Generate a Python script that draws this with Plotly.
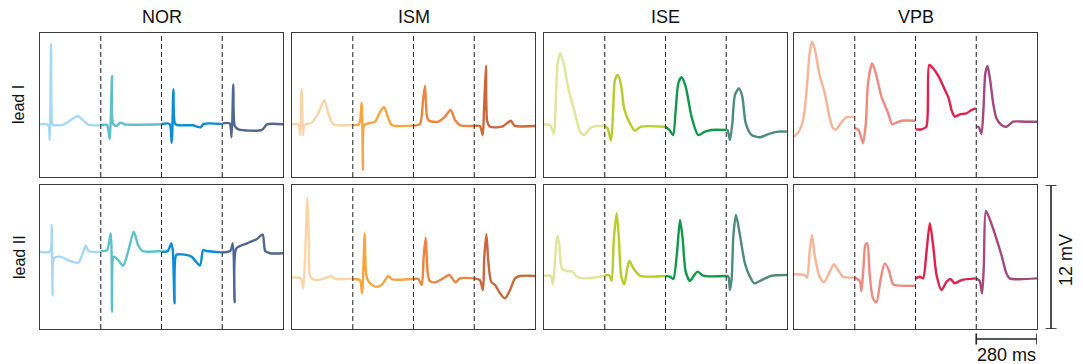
import plotly.graph_objects as go

# ---------------- data ----------------
CLASSES = ["NOR", "ISM", "ISE", "VPB"]
LEADS = ["lead I", "lead II"]
SEG_MS = 280          # duration of each beat window (ms)
V_RANGE = [-6, 6]     # 12 mV full height
SCALE_MV_LABEL = "12 mV"
SCALE_MS_LABEL = "280 ms"

COLORS_NOR = ["#a6daf4", "#5cc1cb", "#0a8dd2", "#4f6792"]
COLORS_ISM = ["#fdd4a6", "#f9a53f", "#ef8340", "#c9683a"]
COLORS_ISE = ["#dde699", "#b5ce27", "#10994b", "#4e8b7b"]
COLORS_VPB = ["#f8b496", "#ef8a80", "#e2204b", "#a4487f"]

# NOR, lead I
NOR_I_T = [[0, 31, 40, 45, 51, 55, 60, 76, 108, 138, 174, 197, 223, 280],
           [0, 29, 41, 52, 57, 72, 91, 111, 280],
           [0, 37, 47, 55, 63, 83, 144, 180, 194, 278],
           [0, 34, 43, 51, 58, 75, 183, 206, 280]]
NOR_I_V = [[-1.6, -1.6, -1.75, -2.9, 5.1, -1.4, -1.67, -1.69, -1.64, -1.3, -0.92, -1.25, -1.64, -1.69],
           [-1.67, -1.67, -2.86, 2.42, -1.58, -1.75, -1.47, -1.61, -1.61],
           [-1.58, -1.58, -3.14, 1.31, -1.58, -1.69, -1.69, -1.86, -1.58, -1.58],
           [-1.53, -1.53, -2.69, 1.72, -1.75, -2.03, -2.08, -1.61, -1.61]]
# NOR, lead II
NOR_II_T = [[0, 46, 54, 58, 65, 92, 138, 177, 197, 211, 223, 246, 280],
            [0, 29, 46, 52, 60, 80, 103, 126, 152, 172, 192, 280],
            [0, 29, 45, 52, 60, 68, 91, 138, 177, 192, 208, 278],
            [0, 37, 49, 57, 65, 114, 160, 186, 198, 221, 280]]
NOR_II_V = [[0.44, 0.44, 2.67, -3.22, -0.11, 0.03, -0.33, -0.47, 0.31, 0.94, 0.5, 0.42, 0.42],
            [0.5, 0.58, 1.97, -4.56, 0.03, -0.25, -0.72, 0.44, 2.11, 1.0, 0.5, 0.5],
            [0.44, 0.5, 1.14, 0.58, -3.86, 0.17, 0.22, 0.03, -0.72, 0.58, 0.5, 0.39],
            [0.39, 0.5, 1.14, -3.78, 0.72, 1.14, 1.5, 1.89, 0.5, 0.31, 0.31]]

# ISM, lead I
ISM_I_T = [[0, 29, 38, 44, 51, 57, 91, 121, 149, 167, 191, 280],
           [0, 29, 41, 47, 53, 72, 103, 126, 144, 164, 180, 280],
           [0, 30, 44, 53, 62, 72, 114, 145, 171, 191, 214, 280],
           [0, 26, 39, 45, 54, 60, 73, 127, 150, 169, 185, 280]]
ISM_I_V = [[-1.61, -1.61, -2.5, 1.31, -2.5, -1.67, -1.47, -0.69, 0.42, -0.69, -1.61, -1.67],
           [-1.67, -1.61, 0.19, -5.4, -1.67, -1.53, -1.39, -0.56, -0.19, -1.11, -1.67, -1.72],
           [-1.72, -1.58, 0.42, 1.58, -0.97, -1.31, -1.39, -0.97, -0.42, -1.25, -1.67, -1.75],
           [-1.75, -1.75, -2.5, -0.42, 3.28, -1.39, -1.81, -1.81, -1.53, -1.31, -1.72, -1.75]]
# ISM, lead II
ISM_II_T = [[0, 41, 52, 63, 71, 78, 84, 106, 144, 180, 198, 280],
            [0, 33, 43, 55, 62, 75, 103, 133, 164, 182, 280],
            [0, 22, 38, 47, 56, 65, 75, 99, 137, 165, 194, 214, 280],
            [0, 26, 40, 46, 56, 65, 78, 96, 119, 142, 165, 188, 211, 280]]
ISM_II_V = [[-1.72, -1.78, -2.61, 1.28, 4.94, 1.28, -1.64, -1.92, -1.83, -1.58, -1.83, -1.78],
            [-1.83, -1.92, -3.03, 1.97, -1.5, -2.11, -2.47, -2.33, -1.58, -1.86, -1.83],
            [-1.83, -1.83, -2.33, 0.03, 1.61, -1.22, -2.0, -2.11, -1.78, -1.5, -2.11, -1.78, -1.78],
            [-1.78, -1.92, -2.75, -0.11, 1.89, -0.39, -2.06, -2.33, -3.03, -3.44, -2.75, -1.78, -1.58, -1.58]]

# ISE, lead I
ISE_I_T = [[0, 28, 46, 54, 63, 74, 89, 112, 143, 166, 186, 212, 243, 280],
           [0, 13, 29, 38, 47, 60, 75, 90, 116, 139, 167, 280],
           [0, 18, 35, 47, 59, 74, 93, 120, 151, 182, 213, 280],
           [0, 6, 17, 28, 40, 59, 74, 90, 117, 156, 194, 240, 280]]
ISE_I_V = [[-1.61, -1.67, -2.42, 0.42, 3.47, 4.31, 3.61, 1.39, -0.69, -2.22, -2.5, -1.94, -1.75, -1.75],
           [-1.75, -1.94, -2.97, -0.69, 2.08, 2.5, 1.67, -0.36, -1.53, -2.14, -1.81, -1.81],
           [-1.81, -2.08, -2.5, -0.42, 1.81, 2.31, 1.53, -0.97, -2.5, -2.22, -2.08, -2.08],
           [-2.08, -2.08, -2.92, -1.53, 0.83, 1.39, 0.69, -1.53, -2.5, -2.69, -2.42, -2.22, -2.22]]
# ISE, lead II
ISE_II_T = [[0, 32, 41, 51, 61, 71, 82, 105, 131, 151, 189, 280],
            [0, 20, 32, 41, 55, 66, 75, 90, 101, 113, 132, 163, 280],
            [0, 21, 36, 52, 67, 79, 93, 113, 133, 148, 174, 280],
            [0, 10, 17, 25, 33, 45, 63, 86, 109, 129, 163, 209, 280]]
ISE_II_V = [[-1.56, -1.56, -2.28, -0.11, 1.78, 1.0, -0.94, -1.17, -1.22, -1.64, -1.78, -1.56],
            [-1.56, -1.5, -2.0, 1.28, 3.64, 1.28, -1.5, -2.28, -1.22, -0.33, -0.94, -1.56, -1.58],
            [-1.58, -1.64, -1.83, 0.17, 3.08, 1.56, -1.22, -2.0, -1.5, -1.22, -1.56, -1.58],
            [-1.56, -1.64, -2.75, -1.78, 1.83, 3.5, 1.83, -0.53, -1.64, -2.19, -1.92, -1.56, -1.5]]

# VPB, lead I
VPB_I_T = [[0, 22, 42, 57, 72, 83, 95, 118, 142, 165, 180, 195, 215, 241, 280],
           [0, 18, 38, 51, 61, 80, 95, 123, 154, 172, 192, 215, 280],
           [0, 27, 50, 63, 81, 107, 132, 153, 166, 181, 204, 235, 258, 278],
           [0, 12, 24, 33, 42, 52, 64, 78, 93, 116, 139, 170, 224, 280]]
VPB_I_V = [[-2.64, -2.22, -1.25, 0.97, 4.31, 5.28, 4.72, 2.5, 0.97, -1.11, -1.94, -2.03, -1.53, -1.03, -0.97],
           [-1.94, -2.08, -3.19, -1.53, 1.81, 3.47, 2.78, 0.69, -0.69, -1.61, -1.47, -1.31, -1.31],
           [-2.03, -2.03, -1.81, 3.33, 3.06, 2.36, 1.39, 0.56, -0.42, -0.97, -0.78, -0.69, -0.42, -0.28],
           [-1.78, -1.86, -2.42, -0.42, 2.64, 3.25, 2.08, 0.14, -1.11, -1.67, -1.81, -1.39, -1.39, -1.39]]
# VPB, lead II
VPB_II_T = [[0, 49, 60, 72, 83, 95, 118, 138, 165, 184, 203, 226, 280],
            [0, 23, 31, 40, 49, 58, 69, 84, 100, 120, 138, 157, 177, 207, 280],
            [0, 20, 35, 50, 66, 81, 97, 120, 143, 161, 181, 212, 278],
            [0, 16, 27, 35, 44, 58, 85, 116, 139, 154, 280]]
VPB_II_V = [[-1.44, -1.5, -1.72, 0.44, 1.83, 0.17, -1.64, -2.11, -1.22, -0.61, -1.08, -1.64, -1.72],
            [-1.72, -2.0, -2.83, -0.94, 1.0, 1.14, -1.5, -3.44, -3.78, -1.78, -0.53, -1.08, -2.28, -2.39, -2.39],
            [-1.78, -1.64, -1.78, 0.31, 2.81, 1.0, -1.5, -2.75, -2.06, -1.83, -2.19, -1.92, -1.78],
            [-1.78, -2.0, -3.03, -0.67, 3.83, 3.36, 1.97, 0.17, -1.36, -1.78, -1.78]]

TIMES = [[NOR_I_T, ISM_I_T, ISE_I_T, VPB_I_T], [NOR_II_T, ISM_II_T, ISE_II_T, VPB_II_T]]
VALUES = [[NOR_I_V, ISM_I_V, ISE_I_V, VPB_I_V], [NOR_II_V, ISM_II_V, ISE_II_V, VPB_II_V]]
COLORS = [COLORS_NOR, COLORS_ISM, COLORS_ISE, COLORS_VPB]

# ---------------- layout geometry (pixels) ----------------
W, H = 1083, 364
PANEL_LEFT = [40, 292, 544, 794]
PANEL_W = 243
ROW_TOP = [33, 185]
PANEL_H = 144

def px_x(p):
    return p / W

def px_y(p):
    return 1 - p / H

fig = go.Figure()
layout = dict(width=W, height=H, margin=dict(l=0, r=0, t=0, b=0),
              paper_bgcolor="white", plot_bgcolor="white", showlegend=False,
              font=dict(family="Liberation Sans, Arial, sans-serif", color="#111"))
shapes = []
annotations = []
n_beats = len(COLORS_NOR)
x_max = SEG_MS * n_beats

for r in range(2):
    for c in range(4):
        k = r * 4 + c + 1
        xa = "x" if k == 1 else f"x{k}"
        ya = "y" if k == 1 else f"y{k}"
        layout[f"xaxis{'' if k == 1 else k}"] = dict(
            domain=[px_x(PANEL_LEFT[c]), px_x(PANEL_LEFT[c] + PANEL_W)],
            range=[0, x_max], anchor=ya, showgrid=False, zeroline=False,
            showticklabels=False, ticks="", showline=True, mirror=True,
            linecolor="#3a3a3a", linewidth=1.4, fixedrange=True)
        layout[f"yaxis{'' if k == 1 else k}"] = dict(
            domain=[px_y(ROW_TOP[r] + PANEL_H), px_y(ROW_TOP[r])],
            range=V_RANGE, anchor=xa, showgrid=False, zeroline=False,
            showticklabels=False, ticks="", showline=True, mirror=True,
            linecolor="#3a3a3a", linewidth=1.4, fixedrange=True)
        for b in range(n_beats):
            t0 = b * SEG_MS
            xs = [t0 + t for t in TIMES[r][c][b]]
            fig.add_trace(go.Scatter(
                x=xs, y=VALUES[r][c][b], mode="lines", xaxis=xa, yaxis=ya,
                line=dict(color=COLORS[c][b], width=2.4, shape="spline", smoothing=0.7),
                hoverinfo="skip"))
        for b in range(1, n_beats):
            shapes.append(dict(type="line", xref=xa, yref=f"{ya} domain",
                               x0=b * SEG_MS, x1=b * SEG_MS, y0=0, y1=1,
                               line=dict(color="#333", width=1.1, dash="5px,3px")))

# column titles
for c, name in enumerate(CLASSES):
    annotations.append(dict(text=name, xref="paper", yref="paper",
                            x=px_x(PANEL_LEFT[c] + PANEL_W / 2), y=px_y(17),
                            showarrow=False, font=dict(size=18), xanchor="center", yanchor="middle"))
# row labels
for r, name in enumerate(LEADS):
    annotations.append(dict(text=name, xref="paper", yref="paper",
                            x=px_x(19), y=px_y(ROW_TOP[r] + PANEL_H / 2), textangle=-90,
                            showarrow=False, font=dict(size=16), xanchor="center", yanchor="middle"))

# vertical scale bar: spans the full 12 mV of the lower-right panel
bar_x = px_x(1051)
cap = 5.5 / W
shapes += [
    dict(type="line", xref="paper", yref="y8", x0=bar_x, x1=bar_x, y0=V_RANGE[0], y1=V_RANGE[1],
         line=dict(color="#222", width=1.6)),
    dict(type="line", xref="paper", yref="y8", x0=bar_x - cap, x1=bar_x + cap, y0=V_RANGE[0], y1=V_RANGE[0],
         line=dict(color="#222", width=1.6)),
    dict(type="line", xref="paper", yref="y8", x0=bar_x - cap, x1=bar_x + cap, y0=V_RANGE[1], y1=V_RANGE[1],
         line=dict(color="#222", width=1.6)),
]
annotations.append(dict(text=SCALE_MV_LABEL, xref="paper", yref="paper", x=px_x(1066),
                        y=px_y(260), textangle=-90, showarrow=False,
                        font=dict(size=18), xanchor="center", yanchor="middle"))
# horizontal scale bar: one beat window (280 ms) under the last beat of VPB
bar_y = px_y(339)
capv = 5.5 / H
shapes += [
    dict(type="line", xref="x8", yref="paper", x0=x_max - SEG_MS, x1=x_max, y0=bar_y, y1=bar_y,
         line=dict(color="#222", width=1.6)),
    dict(type="line", xref="x8", yref="paper", x0=x_max - SEG_MS, x1=x_max - SEG_MS,
         y0=bar_y - capv, y1=bar_y + capv, line=dict(color="#222", width=1.6)),
    dict(type="line", xref="x8", yref="paper", x0=x_max, x1=x_max,
         y0=bar_y - capv, y1=bar_y + capv, line=dict(color="#222", width=1.6)),
]
annotations.append(dict(text=SCALE_MS_LABEL, xref="x8", yref="paper", x=x_max - SEG_MS / 2,
                        y=px_y(355), showarrow=False, font=dict(size=18),
                        xanchor="center", yanchor="middle"))

layout["shapes"] = shapes
layout["annotations"] = annotations
fig.update_layout(**layout)
fig.write_html("out.html", config={"displayModeBar": False},
               post_script="document.body.style.margin='0';document.body.style.overflow='hidden';")
